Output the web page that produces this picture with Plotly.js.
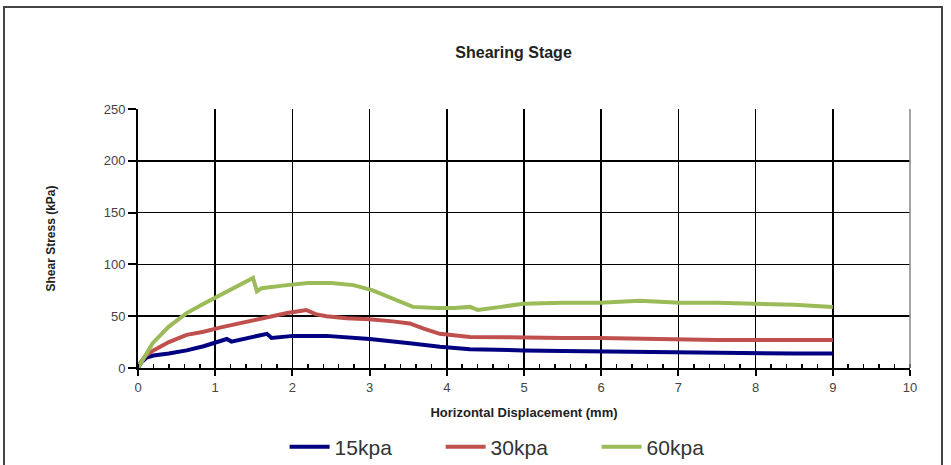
<!DOCTYPE html>
<html>
<head>
<meta charset="utf-8">
<script src="https://cdn.plot.ly/plotly-3.0.1.min.js"></script>
<style>
html,body{margin:0;padding:0;background:#fff;overflow:hidden;}
#frame{position:absolute;left:3px;top:6px;width:940px;height:470px;border:2px solid #444;box-sizing:border-box;}
#chart{position:absolute;left:0;top:0;width:951px;height:465px;}
</style>
</head>
<body>
<div id="frame"></div>
<div id="chart"></div>
<script>
const seriesNames = ['15kpa', '30kpa', '60kpa'];
const seriesColors = ['#000080', '#C0504D', '#9BBB59'];

const x15 = [0, 0.05, 0.11, 0.2, 0.4, 0.63, 0.85, 1.02, 1.15, 1.21, 1.35, 1.49, 1.67, 1.73, 1.85, 2.01, 2.44, 2.8, 3.0, 3.52, 3.91, 4.3, 4.5, 5, 5.5, 5.98, 6.5, 7.02, 7.5, 7.97, 8.5, 9];
const y15 = [0, 6, 10, 12, 14, 17, 21, 25, 28, 25.5, 28, 30, 33, 29, 30, 31, 31, 29.5, 28, 24, 20.5, 18, 17.5, 17, 16.5, 16, 15.5, 15, 14.5, 14, 14, 14];

const x30 = [0, 0.1, 0.2, 0.4, 0.63, 0.85, 1.06, 1.3, 1.5, 1.7, 1.93, 2.1, 2.18, 2.3, 2.44, 2.7, 3.0, 3.3, 3.52, 3.7, 3.91, 4.3, 4.95, 5.5, 5.98, 6.5, 7.02, 7.5, 8, 8.5, 9];
const y30 = [2, 12, 17, 25, 32, 35, 39, 43, 46, 50, 53, 55, 56, 52, 50, 48, 47, 45, 43, 38, 33, 30, 29, 29, 29, 28, 27, 27, 27, 27, 27];

const x60 = [0, 0.1, 0.19, 0.4, 0.63, 0.85, 1.06, 1.25, 1.45, 1.49, 1.54, 1.6, 1.93, 2.2, 2.5, 2.79, 3.04, 3.3, 3.56, 3.87, 4.1, 4.3, 4.4, 4.7, 4.99, 5.5, 5.98, 6.5, 7.02, 7.5, 7.97, 8.5, 9];
const y60 = [0, 12, 24, 40, 53, 62, 70, 77, 85, 87, 74, 77, 80, 82, 82, 80, 75, 67, 59, 58, 58, 59, 56, 59, 62, 63, 63, 65, 63, 63, 62.5, 61, 59];

const xs = [x15, x30, x60];
const ys = [y15, y30, y60];

const traces = seriesNames.map((n, i) => ({
  type: 'scatter', mode: 'lines', name: n,
  x: xs[i], y: ys[i],
  line: {color: seriesColors[i], width: 4}
}));

const font = 'Liberation Sans, Arial, sans-serif';
const layout = {
  width: 951, height: 465,
  margin: {l: 138, r: 41, t: 109, b: 97, autoexpand: false},
  paper_bgcolor: 'rgba(0,0,0,0)', plot_bgcolor: '#fff',
  font: {family: font, color: '#333'},
  title: {text: '<b>Shearing Stage</b>', font: {size: 16, color: '#222', family: font}, x: 0.54, xanchor: 'center', y: 0.888, yanchor: 'middle'},
  xaxis: {
    range: [0, 10], dtick: 1, tick0: 0, showgrid: true, gridcolor: '#000', gridwidth: 1.5,
    showline: true, linecolor: '#000', linewidth: 2, mirror: false,
    ticks: 'outside', ticklen: 6, tickwidth: 2, tickcolor: '#000',
    minor: {dtick: 0.2, ticks: 'inside', ticklen: 4, tickwidth: 1.5, tickcolor: '#000', showgrid: false},
    tickfont: {size: 13, color: '#444'},
    zeroline: false,
    title: {text: '<b>Horizontal Displacement (mm)</b>', font: {size: 13, color: '#222'}, standoff: 14}
  },
  yaxis: {
    range: [0, 250], dtick: 50, showgrid: true, gridcolor: '#000', gridwidth: 1.5,
    showline: true, linecolor: '#000', linewidth: 2,
    ticks: 'outside', ticklen: 8, tickwidth: 2, tickcolor: '#000',
    tickfont: {size: 13, color: '#444'},
    zeroline: false,
    title: {text: '<b>Shear Stress (kPa)</b>', font: {size: 12, color: '#222'}, standoff: 45}
  },
  shapes: [
    {type: 'line', xref: 'paper', yref: 'paper', x0: 1, x1: 1, y0: 0, y1: 1, line: {color: '#888', width: 1.5}}
  ],
  showlegend: true,
  legend: {orientation: 'h', x: 0.493, xanchor: 'center', y: -0.305, yanchor: 'middle',
           font: {size: 21, color: '#333'}, itemwidth: 40, entrywidth: 101, entrywidthmode: 'pixels'}
};

Plotly.newPlot('chart', traces, layout, {displayModeBar: false, staticPlot: true});
</script>
</body>
</html>
